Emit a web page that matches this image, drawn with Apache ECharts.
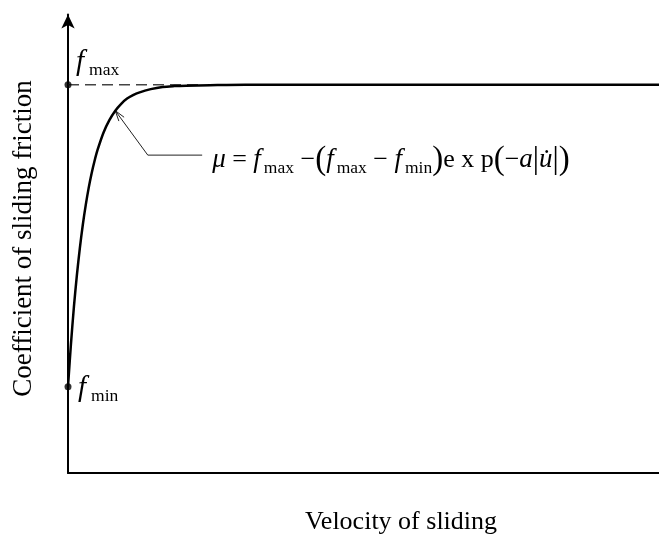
<!DOCTYPE html>
<html>
<head>
<meta charset="utf-8">
<script src="https://cdn.jsdelivr.net/npm/echarts@6/dist/echarts.min.js"></script>
<style>
  html, body { margin: 0; padding: 0; background: #fff; }
  #chart { width: 659px; height: 543px; }
</style>
</head>
<body>
<div id="chart"></div>
<script>
// Sliding velocity (arbitrary units) and friction coefficient along the curve
const velocity = [0, 0.05, 0.1, 0.15, 0.2, 0.25, 0.3, 0.35, 0.4, 0.45, 0.5, 0.6, 0.7, 0.8, 0.9, 1.0, 1.1, 1.2, 1.4, 1.6, 1.8, 2.0, 2.4, 3, 10];
const friction = [0.2, 0.299, 0.385, 0.458, 0.521, 0.575, 0.621, 0.661, 0.695, 0.724, 0.749, 0.789, 0.818, 0.840, 0.856, 0.868, 0.876, 0.882, 0.890, 0.895, 0.897, 0.898, 0.899, 0.9, 0.9];

// Limiting friction coefficients
const fMax = 0.9;
const fMin = 0.2;
// Extent of the dashed f_max guide
const guideVelocity = [0, 2.2];

// Axis titles
const xTitle = 'Velocity of sliding';
const yTitle = 'Coefficient of sliding friction';

const SERIF = '"Liberation Serif", "Times New Roman", serif';

const chart = echarts.init(document.getElementById('chart'));

const curveData = velocity.map((v, i) => [v, friction[i]]);
const guideData = guideVelocity.map(v => [v, fMax]);

chart.setOption({
  animation: false,
  backgroundColor: '#fff',
  grid: { left: 68, right: 0, top: 14.5, bottom: 70 },
  xAxis: {
    type: 'value', min: 0, max: 10,
    axisLine: { show: true, lineStyle: { color: '#000', width: 2 } },
    axisTick: { show: false }, axisLabel: { show: false }, splitLine: { show: false }
  },
  yAxis: {
    type: 'value', min: 0, max: 1.063,
    axisLine: { show: true, symbol: ['none', 'arrow'], symbolSize: [10, 14], lineStyle: { color: '#000', width: 2 } },
    axisTick: { show: false }, axisLabel: { show: false }, splitLine: { show: false }
  },
  series: [
    {
      type: 'line', data: guideData, symbol: 'none', z: 1,
      lineStyle: { color: '#444', width: 1.4, type: [11, 6] }
    },
    {
      type: 'line', data: curveData, symbol: 'none', smooth: 0.3, z: 3,
      lineStyle: { color: '#000', width: 2.5 }
    },
    {
      type: 'scatter', data: [[0, fMax], [0, fMin]], symbol: 'circle', symbolSize: 7, z: 4,
      itemStyle: { color: '#000' }
    }
  ]
});

const px = p => chart.convertToPixel({ gridIndex: 0 }, p);

// Rich-text styles: italic symbols, upright subscripts, operators, tall delimiters
const mathRich = {
  i: { fontFamily: SERIF, fontStyle: 'italic', fontSize: 27, lineHeight: 34, verticalAlign: 'middle', fill: '#000' },
  s: { fontFamily: SERIF, fontSize: 17.5, lineHeight: 20, verticalAlign: 'bottom', padding: [0, 0, 0, 3], fill: '#000' },
  n: { fontFamily: SERIF, fontSize: 26, lineHeight: 34, verticalAlign: 'middle', fill: '#000' },
  p: { fontFamily: SERIF, fontSize: 33, lineHeight: 34, verticalAlign: 'middle', fill: '#000' },
  b: { fontFamily: SERIF, fontSize: 31, lineHeight: 34, verticalAlign: 'middle', fill: '#000' }
};
const labelRich = {
  i: { fontFamily: SERIF, fontStyle: 'italic', fontSize: 29, lineHeight: 34, verticalAlign: 'middle', fill: '#000' },
  s: { fontFamily: SERIF, fontSize: 17.5, lineHeight: 20, verticalAlign: 'bottom', padding: [0, 0, 0, 5], fill: '#000' }
};

const maxPt = px([0, fMax]);
const minPt = px([0, fMin]);

// Leader from the formula to the curve
const tip = px([0.8, 0.84]);
const corner = px([1.35, 0.737]);
const tail = px([2.27, 0.737]);
const ang = Math.atan2(corner[1] - tip[1], corner[0] - tip[0]);
const headLen = 11, headSpread = 0.3;
const h1 = [tip[0] + headLen * Math.cos(ang - headSpread), tip[1] + headLen * Math.sin(ang - headSpread)];
const h2 = [tip[0] + headLen * Math.cos(ang + headSpread), tip[1] + headLen * Math.sin(ang + headSpread)];

chart.setOption({
  graphic: [
    {
      type: 'text', x: maxPt[0] + 8, y: maxPt[1] - 22,
      style: { text: '{i|f}{s|max}', rich: labelRich, textVerticalAlign: 'middle' }
    },
    {
      type: 'text', x: minPt[0] + 10, y: minPt[1] + 2,
      style: { text: '{i|f}{s|min}', rich: labelRich, textVerticalAlign: 'middle' }
    },
    {
      type: 'polyline', shape: { points: [tip, corner, tail] },
      style: { stroke: '#222', lineWidth: 1, fill: null }
    },
    {
      type: 'polyline', shape: { points: [h1, tip, h2] },
      style: { stroke: '#222', lineWidth: 1, fill: null }
    },
    {
      type: 'text', x: tail[0] + 10, y: tail[1] + 5,
      style: {
        text: '{i|μ}{n| = }{i|f}{s|max}{n| −}{p|(}{i|f}{s|max}{n| − }{i|f}{s|min}{p|)}{n|e x p}{p|(}{n|−}{i|a}{b||}{i|u̇}{b||}{p|)}',
        rich: mathRich, textVerticalAlign: 'middle'
      }
    },
    {
      type: 'text', x: 401, y: 522,
      style: { text: xTitle, font: '26px ' + SERIF, fill: '#000', textAlign: 'center', textVerticalAlign: 'middle' }
    },
    {
      type: 'text', x: 24, y: 238.5, rotation: Math.PI / 2,
      style: { text: yTitle, font: '27px ' + SERIF, fill: '#000', textAlign: 'center', textVerticalAlign: 'middle' }
    }
  ]
});
</script>
</body>
</html>
